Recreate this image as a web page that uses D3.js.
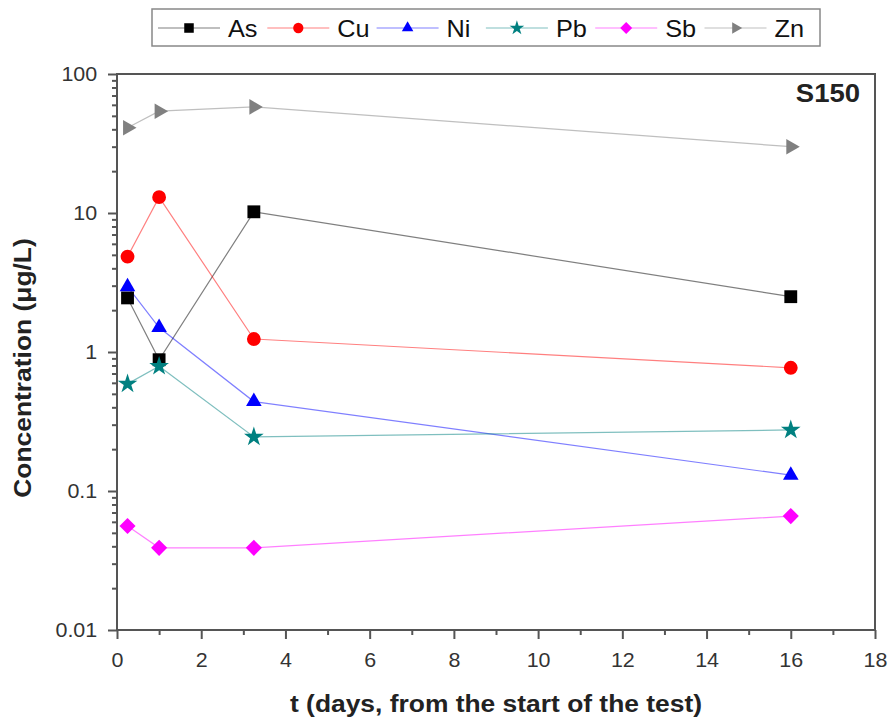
<!DOCTYPE html>
<html lang="en">
<head>
<meta charset="UTF-8"/>
<title>S150 concentration</title>
<style>
  * { margin: 0; padding: 0; }
  body { background: #fff; width: 891px; height: 725px; overflow: hidden; font-family: "Liberation Sans", Arial, sans-serif; }
  svg { display: block; }
</style>
</head>
<body>
<div id="chart"></div>
<script src="https://cdn.jsdelivr.net/npm/d3@7/dist/d3.min.js"></script>
<script>
// --- data ---
const days   = [0.25, 1, 3.25, 16]
const names  = ['As', 'Cu', 'Ni', 'Pb', 'Sb', 'Zn']
const asVals = [2.45, 0.88, 10.2, 2.5]
const cuVals = [4.85, 13, 1.24, 0.77]
const niVals = [2.95, 1.5, 0.44, 0.13]
const pbVals = [0.59, 0.79, 0.245, 0.275]
const sbVals = [0.056, 0.039, 0.039, 0.066]
const znVals = [41, 54, 58, 30]
const xTicks = [0, 2, 4, 6, 8, 10, 12, 14, 16, 18]
const yTicks = [0.01, 0.1, 1, 10, 100]

const seriesVals = [asVals, cuVals, niVals, pbVals, sbVals, znVals]
const colors  = ['#000000', '#ff0000', '#0000ff', '#008080', '#ff00ff', '#808080']
const shapes  = ['square', 'circle', 'triangle', 'star', 'diamond', 'right']

const W = 891, H = 725
const m = { left: 117, right: 875, top: 74, bottom: 630 }
const SX = 1.1 // the source text is a bit wider than Liberation Sans

const svg = d3.select('#chart').append('svg').attr('width', W).attr('height', H)

const x = d3.scaleLinear().domain([0, 18]).range([m.left, m.right])
const y = d3.scaleLog().domain([0.01, 100]).range([m.bottom, m.top])

const axisColor = '#555'

// frame
svg.append('rect')
  .attr('x', m.left).attr('y', m.top)
  .attr('width', m.right - m.left).attr('height', m.bottom - m.top)
  .attr('fill', 'none').attr('stroke', axisColor).attr('stroke-width', 2)

// bottom axis: majors + minors
const xAxis = svg.append('g').attr('transform', `translate(0,${m.bottom})`)
xAxis.call(d3.axisBottom(x).tickValues(xTicks).tickSize(9).tickPadding(14).tickFormat(d3.format('d')))
xAxis.append('g').call(d3.axisBottom(x).tickValues(d3.range(1, 18, 2)).tickSize(5).tickFormat(''))
xAxis.selectAll('.domain').remove()
xAxis.selectAll('line').attr('stroke', axisColor).attr('stroke-width', 2)
xAxis.selectAll('text').attr('font-size', 19.5).attr('fill', '#333')
  .attr('font-family', '"Liberation Sans", Arial, sans-serif')
  .attr('transform', `scale(${SX},1)`)

// left axis: log decades + minors
const minors = []
for (let d = 0.01; d < 100; d *= 10) for (let k = 2; k <= 9; k++) minors.push(+(d * k).toPrecision(3))
const yAxis = svg.append('g').attr('transform', `translate(${m.left},0)`)
yAxis.call(d3.axisLeft(y).tickValues(yTicks).tickSize(9).tickPadding(9).tickFormat(d => String(d)))
yAxis.append('g').call(d3.axisLeft(y).tickValues(minors).tickSize(5).tickFormat(''))
yAxis.selectAll('.domain').remove()
yAxis.selectAll('line').attr('stroke', axisColor).attr('stroke-width', 2)
yAxis.selectAll('text').attr('font-size', 19.5).attr('fill', '#333')
  .attr('font-family', '"Liberation Sans", Arial, sans-serif')
  .attr('transform', function() {
    const ty = d3.select(this.parentNode).attr('transform')
    return `scale(${SX},1)`
  })

// axis titles
svg.append('text')
  .attr('transform', `translate(496,712) scale(${SX},1)`).attr('text-anchor', 'middle')
  .attr('font-size', 24).attr('font-weight', 'bold').attr('fill', '#222')
  .text('t (days, from the start of the test)')
svg.append('text')
  .attr('transform', `translate(31,368) rotate(-90) scale(${SX},1)`)
  .attr('text-anchor', 'middle')
  .attr('font-size', 24).attr('font-weight', 'bold').attr('fill', '#222')
  .text('Concentration (\u03bcg/L)')

svg.append('text')
  .attr('transform', `translate(860,102) scale(${SX},1)`).attr('text-anchor', 'end')
  .attr('font-size', 25).attr('font-weight', 'bold').attr('fill', '#222')
  .text('S150')

// markers
function marker(g, shape, color, k = 1) {
  const sym = {
    square:   [d3.symbolSquare, 165],
    circle:   [d3.symbolCircle, 150],
    triangle: [d3.symbolTriangle, 105],
    star:     [d3.symbolStar, 120],
    diamond:  [d3.symbolSquare, 130],
    right:    [d3.symbolTriangle, 105],
  }[shape]
  const p = g.append('path').attr('d', d3.symbol().type(sym[0]).size(sym[1] * k)()).attr('fill', color)
  if (shape === 'diamond') p.attr('transform', 'rotate(45)')
  if (shape === 'right') p.attr('transform', 'rotate(90)')
  return p
}

const line = d3.line().x(d => x(d[0])).y(d => y(d[1]))

names.forEach((name, i) => {
  const pts = days.map((t, j) => [t, seriesVals[i][j]])
  svg.append('path').datum(pts)
    .attr('d', line).attr('fill', 'none')
    .attr('stroke', colors[i]).attr('stroke-opacity', 0.5).attr('stroke-width', 1.2)
})
names.forEach((name, i) => {
  days.forEach((t, j) => {
    const g = svg.append('g').attr('transform', `translate(${x(t)},${y(seriesVals[i][j])})`)
    marker(g, shapes[i], colors[i])
  })
})

// legend
const leg = svg.append('g')
leg.append('rect').attr('x', 152).attr('y', 9).attr('width', 668).attr('height', 37)
  .attr('fill', '#fff').attr('stroke', '#888').attr('stroke-width', 1.5)
names.forEach((name, i) => {
  const cx = 189 + i * 109.3
  const g = leg.append('g')
  g.append('line').attr('x1', cx - 31).attr('x2', cx + 31).attr('y1', 28).attr('y2', 28)
    .attr('stroke', colors[i]).attr('stroke-opacity', 0.5).attr('stroke-width', 1.2)
  marker(g.append('g').attr('transform', `translate(${cx},28)`), shapes[i], colors[i], 0.55)
  g.append('text').attr('transform', `translate(${cx + 39},36.5) scale(${SX},1)`)
    .attr('font-size', 23).attr('fill', '#111').text(name)
})
</script>
</body>
</html>
